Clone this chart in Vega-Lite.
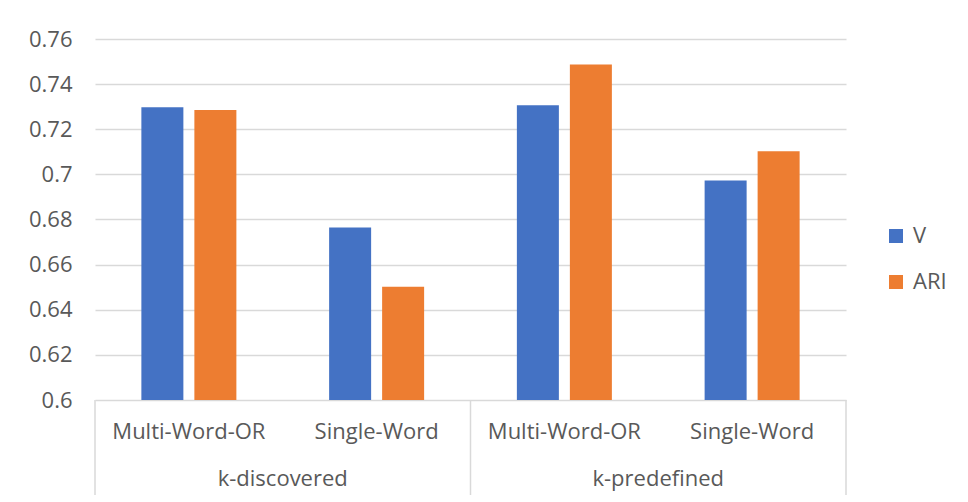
{
  "$schema": "https://vega.github.io/schema/vega-lite/v6.json",
  "padding": {"left": 28, "top": 28, "right": 0, "bottom": 0},
  "background": "white",
  "spacing": 0,
  "bounds": "flush",
  "resolve": {"scale": {"x": "independent", "y": "independent", "color": "independent"}},
  "config": {
    "font": "Open Sans",
    "view": {"stroke": null},
    "concat": {"spacing": 0}
  },
  "datasets": {
    "scores": [
      {"slot": "k-discovered / Multi-Word-OR", "series": "V", "value": 0.7297},
      {"slot": "k-discovered / Multi-Word-OR", "series": "ARI", "value": 0.7285},
      {"slot": "k-discovered / Single-Word", "series": "V", "value": 0.6765},
      {"slot": "k-discovered / Single-Word", "series": "ARI", "value": 0.6502},
      {"slot": "k-predefined / Multi-Word-OR", "series": "V", "value": 0.7306},
      {"slot": "k-predefined / Multi-Word-OR", "series": "ARI", "value": 0.7487},
      {"slot": "k-predefined / Single-Word", "series": "V", "value": 0.6973},
      {"slot": "k-predefined / Single-Word", "series": "ARI", "value": 0.7102}
    ],
    "categories": [
      {"slot": "k-discovered / Multi-Word-OR", "label": "Multi-Word-OR", "row": "category"},
      {"slot": "k-discovered / Single-Word", "label": "Single-Word", "row": "category"},
      {"slot": "k-predefined / Multi-Word-OR", "label": "Multi-Word-OR", "row": "category"},
      {"slot": "k-predefined / Single-Word", "label": "Single-Word", "row": "category"}
    ],
    "groups": [
      {"slot": "k-discovered / Single-Word", "label": "k-discovered", "row": "group"},
      {"slot": "k-predefined / Single-Word", "label": "k-predefined", "row": "group"}
    ],
    "groupStarts": [
      {"slot": "k-discovered / Multi-Word-OR"},
      {"slot": "k-predefined / Multi-Word-OR"}
    ],
    "groupEnds": [
      {"slot": "k-predefined / Single-Word"}
    ]
  },
  "vconcat": [
    {
      "width": 751,
      "height": 361,
      "data": {"name": "scores"},
      "mark": {"type": "bar", "clip": true},
      "encoding": {
        "x": {
          "field": "slot",
          "type": "nominal",
          "sort": null,
          "scale": {"domain": ["k-discovered / Multi-Word-OR", "k-discovered / Single-Word", "k-predefined / Multi-Word-OR", "k-predefined / Single-Word"], "paddingInner": 0, "paddingOuter": 0},
          "axis": null
        },
        "xOffset": {
          "field": "series",
          "type": "nominal",
          "sort": ["V", "ARI"],
          "scale": {"paddingInner": 0.2075, "paddingOuter": 0.875}
        },
        "y": {
          "field": "value",
          "type": "quantitative",
          "scale": {"domain": [0.6, 0.76], "zero": false, "nice": false},
          "axis": {
            "title": null,
            "values": [0.6, 0.62, 0.64, 0.66, 0.68, 0.7, 0.72, 0.74, 0.76],
            "format": "~g",
            "domain": false,
            "ticks": false,
            "labelPadding": 23,
            "labelFontSize": 22,
            "labelColor": "#595959",
            "gridColor": "#d9d9d9",
            "gridWidth": 1.3
          }
        },
        "color": {
          "field": "series",
          "type": "nominal",
          "sort": ["V", "ARI"],
          "scale": {"domain": ["V", "ARI"], "range": ["#4472C4", "#ED7D31"]},
          "legend": {
            "title": null,
            "orient": "none",
            "legendX": 790,
            "legendY": 186,
            "symbolType": "square",
            "symbolSize": 196,
            "symbolStrokeWidth": 0,
            "labelFontSize": 22,
            "labelColor": "#595959",
            "labelOffset": 6,
            "rowPadding": 24
          }
        }
      }
    },
    {
      "width": 751,
      "height": 95,
      "layer": [
        {
          "data": {"name": "categories"},
          "mark": {"type": "text", "fontSize": 22, "color": "#595959", "dy": 8},
          "encoding": {
            "x": {"field": "slot", "type": "nominal", "sort": null, "scale": {"domain": ["k-discovered / Multi-Word-OR", "k-discovered / Single-Word", "k-predefined / Multi-Word-OR", "k-predefined / Single-Word"], "paddingInner": 0, "paddingOuter": 0}, "axis": null},
            "y": {"field": "row", "type": "nominal", "scale": {"type": "point", "domain": ["category", "group"], "padding": 0.5}, "axis": null},
            "text": {"field": "label"}
          }
        },
        {
          "data": {"name": "groups"},
          "mark": {"type": "text", "fontSize": 22, "color": "#595959", "dy": 8},
          "encoding": {
            "x": {"field": "slot", "type": "nominal", "sort": null, "bandPosition": 0, "axis": null},
            "y": {"field": "row", "type": "nominal", "axis": null},
            "text": {"field": "label"}
          }
        },
        {
          "data": {"name": "groupStarts"},
          "mark": {"type": "rule", "color": "#d9d9d9", "strokeWidth": 1.5},
          "encoding": {
            "x": {"field": "slot", "type": "nominal", "sort": null, "bandPosition": 0, "axis": null}
          }
        },
        {
          "data": {"name": "groupEnds"},
          "mark": {"type": "rule", "color": "#d9d9d9", "strokeWidth": 1.5},
          "encoding": {
            "x": {"field": "slot", "type": "nominal", "sort": null, "bandPosition": 1, "axis": null}
          }
        }
      ]
    }
  ]
}
